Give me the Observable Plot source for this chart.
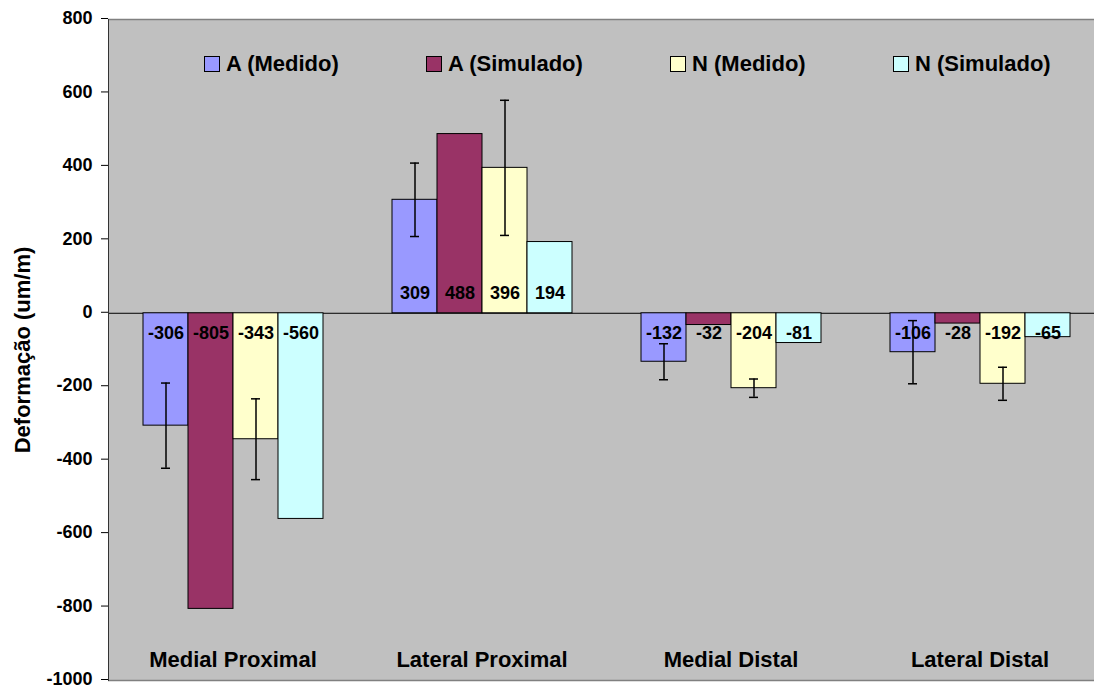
<!DOCTYPE html>
<html>
<head>
<meta charset="utf-8">
<script src="https://cdn.jsdelivr.net/npm/d3@7"></script>
<script src="https://cdn.jsdelivr.net/npm/@observablehq/plot@0.6"></script>
<style>
  html, body { margin: 0; padding: 0; background: #fff; }
  #wrap { position: relative; width: 1094px; height: 687px; overflow: hidden; font-family: "Liberation Sans", Arial, sans-serif; }
  .lg { position: absolute; top: 53px; display: flex; align-items: center; font-weight: bold; font-size: 22px; color: #000; white-space: nowrap; height: 22px; }
  .lg span.sw { display: inline-block; width: 14px; height: 14px; border: 1px solid #000; margin-right: 6px; box-sizing: content-box; }
</style>
</head>
<body>
<div id="wrap"></div>
<script>
const categories = ["Medial Proximal", "Lateral Proximal", "Medial Distal", "Lateral Distal"];
const series = ["A (Medido)", "A (Simulado)", "N (Medido)", "N (Simulado)"];
const colors = ["#9999ff", "#993366", "#ffffcc", "#ccffff"];
const aMedido = [-306, 309, -132, -106];
const aSimulado = [-805, 488, -32, -28];
const nMedido = [-343, 396, -204, -192];
const nSimulado = [-560, 194, -81, -65];
const aMedidoErr = [116, 100, 49, 86];
const nMedidoErr = [110, 184, 25, 45];
const yTicks = [-1000, -800, -600, -400, -200, 0, 200, 400, 600, 800];
const yTitle = "Deformação (um/m)";
const legendX = [204, 426, 670, 893];

const seriesValues = [aMedido, aSimulado, nMedido, nSimulado];
const rows = [];
categories.forEach((c, i) => series.forEach((s, j) => rows.push({category: c, series: s, value: seriesValues[j][i]})));
const errRows = [];
categories.forEach((c, i) => {
  errRows.push({category: c, series: series[0], value: aMedido[i], err: aMedidoErr[i]});
  errRows.push({category: c, series: series[2], value: nMedido[i], err: nMedidoErr[i]});
});

const bold = {fontWeight: "bold", fill: "#000"};
const chart = Plot.plot({
  width: 1094, height: 687,
  marginLeft: 108, marginRight: -10, marginTop: 19, marginBottom: 7,
  style: {fontFamily: "'Liberation Sans', Arial, sans-serif", background: "transparent", overflow: "hidden"},
  fx: {domain: categories, padding: 0, axis: null},
  x: {domain: series, paddingInner: 0, paddingOuter: 0.75, axis: null},
  y: {domain: [-1000, 800], axis: null},
  color: {domain: series, range: colors},
  marks: [
    Plot.frame({fill: "#c0c0c0", insetRight: -1.5, insetLeft: -0.5}),
    Plot.ruleY([800, -1000], {stroke: "#808080", strokeWidth: 1.5}),
    Plot.ruleY([0], {stroke: "#000"}),
    Plot.barY(rows, {fx: "category", x: "series", y: "value", fill: "series", stroke: "#000", strokeWidth: 1}),
    Plot.ruleX(errRows, {fx: "category", x: "series", y1: d => d.value - d.err, y2: d => d.value + d.err, stroke: "#000", strokeWidth: 1.5}),
    Plot.tickY(errRows, {fx: "category", x: "series", y: d => d.value - d.err, insetLeft: 18, insetRight: 18, stroke: "#000", strokeWidth: 1.5}),
    Plot.tickY(errRows, {fx: "category", x: "series", y: d => d.value + d.err, insetLeft: 18, insetRight: 18, stroke: "#000", strokeWidth: 1.5}),
    Plot.text(rows.filter(d => d.value >= 0), {fx: "category", x: "series", y: () => 0, text: d => String(d.value), dy: -20, fontSize: 18, ...bold}),
    Plot.text(rows.filter(d => d.value < 0), {fx: "category", x: "series", y: () => 0, text: d => String(d.value), dy: 20, fontSize: 18, ...bold}),
    Plot.text(categories, {fx: d => d, text: d => d, frameAnchor: "bottom", lineAnchor: "middle", dy: -21, fontSize: 22, ...bold}),
    Plot.axisY({ticks: yTicks, tickFormat: d => String(d), tickSize: 7, tickPadding: 9, fontSize: 18, fontWeight: "bold", label: null, stroke: "#000", dy: -1}),
    Plot.frame({anchor: "left", facetAnchor: "left", stroke: "#333"}),
    Plot.text([yTitle], {fx: () => categories[0], text: d => d, frameAnchor: "left", textAnchor: "middle", rotate: -90, dx: -86, fontSize: 22, ...bold})
  ]
});
const wrap = document.getElementById("wrap");
wrap.appendChild(chart);
series.forEach((s, j) => {
  const el = document.createElement("div");
  el.className = "lg";
  el.style.left = legendX[j] + "px";
  const sw = document.createElement("span");
  sw.className = "sw";
  sw.style.background = colors[j];
  el.appendChild(sw);
  el.appendChild(document.createTextNode(s));
  wrap.appendChild(el);
});
</script>
</body>
</html>
